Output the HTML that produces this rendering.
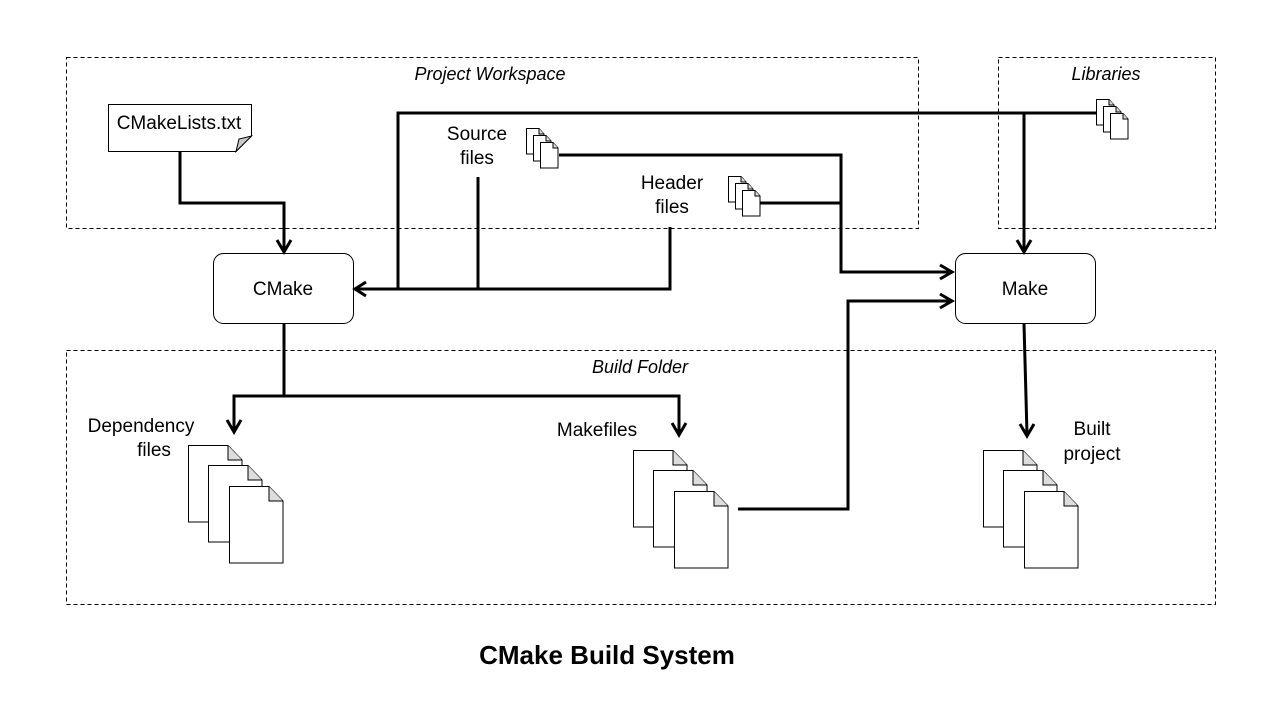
<!DOCTYPE html>
<html><head><meta charset="utf-8"><style>
html,body{margin:0;padding:0;background:#fff;}
svg{display:block;}
text{font-family:"Liberation Sans",sans-serif;font-size:18px;fill:#000;}
.it{font-style:italic;}
</style></head><body>
<svg width="1280" height="720" viewBox="0 0 1280 720" xmlns="http://www.w3.org/2000/svg">
<defs>
<g id="big">
<path d="M0.5,0.5 H40 L54,15 V77 H0.5 Z" fill="#fff" stroke="#000" stroke-width="1"/>
<path d="M40,0.5 V15 H54" fill="#ddd" stroke="#000" stroke-width="1"/>
</g>
<g id="big3">
<use href="#big"/><use href="#big" x="20" y="20"/><use href="#big" x="41" y="41"/>
</g>
<g id="sm">
<path d="M0.5,0.5 H13 L18,6 V26 H0.5 Z" fill="#fff" stroke="#000" stroke-width="1"/>
<path d="M13,0.5 V6 H18" fill="#ddd" stroke="#000" stroke-width="1"/>
</g>
<g id="sm3">
<use href="#sm"/><use href="#sm" x="7" y="7"/><use href="#sm" x="14" y="14"/>
</g>
</defs>

<g fill="none" stroke="#000" stroke-width="1" stroke-dasharray="4,3">
<rect x="66.5" y="57.5" width="852" height="171"/>
<rect x="998.5" y="57.5" width="217" height="171"/>
<rect x="66.5" y="350.5" width="1149" height="254"/>
</g>
<text x="490" y="80" text-anchor="middle" class="it">Project Workspace</text>
<text x="1106" y="80" text-anchor="middle" class="it">Libraries</text>
<text x="640" y="373" text-anchor="middle" class="it">Build Folder</text>

<path d="M108.5,104.5 H251.5 V136 L236,151.5 H108.5 Z" fill="#fff" stroke="#000"/>
<path d="M236,151.5 L239,139 L251.5,136 Z" fill="#c8c8c8" stroke="#000"/>
<text x="179" y="129" text-anchor="middle" style="font-size:19px">CMakeLists.txt</text>

<rect x="213.5" y="253.5" width="140" height="70" rx="10" fill="#fff" stroke="#000"/>
<text x="283" y="295" text-anchor="middle" style="font-size:19px">CMake</text>
<rect x="955.5" y="253.5" width="140" height="70" rx="10" fill="#fff" stroke="#000"/>
<text x="1025" y="295" text-anchor="middle" style="font-size:19px">Make</text>

<g fill="none" stroke="#000" stroke-width="3">
<polyline points="180,151 180,203 284,203 284,250"/>
<polyline points="1096,113 398,113 398,289 357,289"/>
<line x1="478" y1="177" x2="478" y2="289"/>
<polyline points="670,227 670,289 398,289"/>
<polyline points="559,155 841,155 841,272 951,272"/>
<line x1="760" y1="203" x2="841" y2="203"/>
<line x1="1024" y1="113" x2="1024" y2="250"/>
<polyline points="738,509 848,509 848,301 951,301"/>
<line x1="1024" y1="324" x2="1027" y2="434"/>
<line x1="284" y1="324" x2="284" y2="396"/>
<polyline points="234,430 234,396 679,396 679,433"/>
</g>
<g fill="none" stroke="#000" stroke-width="3">
<polyline points="277,240 284,252 291,240"/>
<polyline points="366,282 355,289 366,296"/>
<polyline points="940,265 952,272 940,279"/>
<polyline points="940,294 952,301 940,308"/>
<polyline points="1017,240 1024,252 1031,240"/>
<polyline points="1020,424 1027,436 1034,424"/>
<polyline points="227,420 234,432 241,420"/>
<polyline points="672,423 679,435 686,423"/>
</g>

<use href="#sm3" x="526" y="128"/>
<use href="#sm3" x="728" y="176"/>
<use href="#sm3" x="1096" y="99"/>

<text x="477" y="140" text-anchor="middle" style="font-size:19px">Source</text>
<text x="477" y="164" text-anchor="middle" style="font-size:19px">files</text>
<text x="672" y="189" text-anchor="middle" style="font-size:19px">Header</text>
<text x="672" y="213" text-anchor="middle" style="font-size:19px">files</text>

<use href="#big3" x="188" y="445"/>
<use href="#big3" x="633" y="450"/>
<use href="#big3" x="983" y="450"/>

<text x="141" y="432" text-anchor="middle" style="font-size:19px">Dependency</text>
<text x="154" y="456" text-anchor="middle" style="font-size:19px">files</text>
<text x="597" y="436" text-anchor="middle" style="font-size:19px">Makefiles</text>
<text x="1092" y="435" text-anchor="middle" style="font-size:19px">Built</text>
<text x="1092" y="460" text-anchor="middle" style="font-size:19px">project</text>

<text x="607" y="664" text-anchor="middle" style="font-weight:bold;font-size:26px;">CMake Build System</text>
</svg>
</body></html>
